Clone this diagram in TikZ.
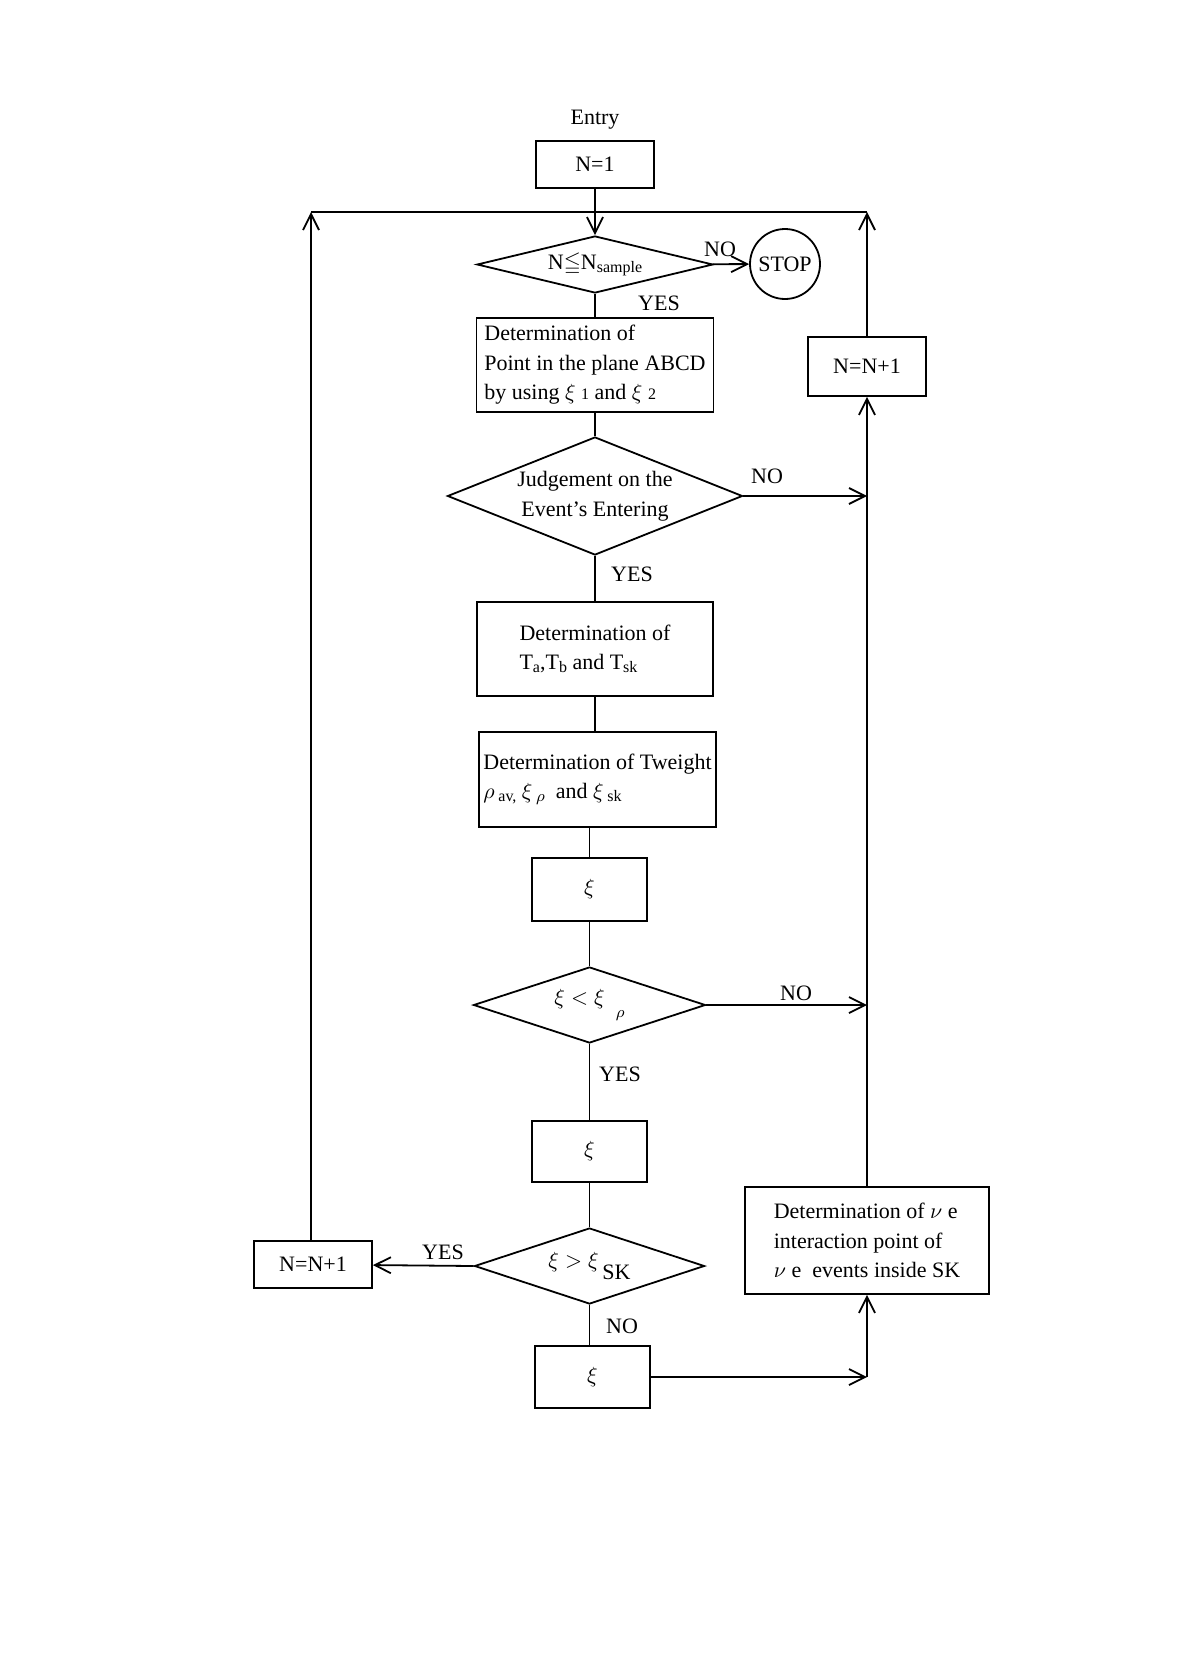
\documentclass[tikz,border=0pt]{standalone}
\usepackage{fontspec}
\usepackage{amsmath,amssymb}
\setmainfont{Liberation Serif}
\usetikzlibrary{shapes.geometric,arrows.meta}
\newcommand{\lowtxt}[1]{\raisebox{-0.3ex}{\footnotesize #1}}

\begin{document}
\begin{tikzpicture}[x=0.5pt,y=-0.5pt,
  every node/.style={font=\fontsize{11}{14.75}\selectfont},
  box/.style={draw,line width=0.9pt,inner sep=0pt,align=left},
  decision/.style={diamond,draw,line width=0.9pt,inner sep=0pt,align=center},
  link/.style={line width=0.7pt},
  arr/.style={line width=0.9pt,-{Straight Barb[length=8pt,width=8pt]}}]
\useasboundingbox (0,0) rectangle (1181,1675);
% main column
\node (entry) at (595,120) {Entry};
\node[box,minimum width=59pt,minimum height=23.5pt] (n1) at (595,164.5) {N=1};
\node[decision,minimum width=118pt,minimum height=28.5pt,aspect=4.1] (d1) at (595,264.5) {N$\leqq$N\lowtxt{sample}};
\node[draw,circle,line width=0.9pt,minimum size=35pt,inner sep=0pt] (stop) at (785,264) {STOP};
\node[box,minimum width=118.5pt,minimum height=47pt] (plane) at (595,365) {Determination of\\Point in the plane ABCD\\by using $\xi$ {\footnotesize 1} and $\xi$ {\footnotesize 2}};
\node[decision,minimum width=147.5pt,minimum height=59pt,aspect=2.5] (d2) at (595,496) {Judgement on the\\Event’s Entering};
\node[box,minimum width=118pt,minimum height=47pt] (ta) at (595,649) {Determination of\\T\lowtxt{a},T\lowtxt{b} and T\lowtxt{sk}};
\node[box,minimum width=118.5pt,minimum height=47.5pt] (tw) at (597.5,779.5) {Determination of Tweight\\$\rho$\,\lowtxt{av,} $\xi$\,\lowtxt{$\rho$}\ \ and $\xi$\,\lowtxt{sk}};
\node[box,minimum width=57.5pt,minimum height=31.5pt,align=center] (xa) at (589.5,889.5) {$\xi$};
\node[decision,minimum width=116pt,minimum height=38pt,aspect=3] (d3) at (589.5,1005) {$\xi<\xi$\ \ \raisebox{-1.3ex}{$\scriptstyle\rho$}};
\node[box,minimum width=57.5pt,minimum height=30.5pt,align=center] (xb) at (589.5,1151.5) {$\xi$};
\node[decision,minimum width=115pt,minimum height=38pt,aspect=3] (d4) at (589.5,1266) {$\xi>\xi$\,\raisebox{-1.2ex}{SK}};
\node[box,minimum width=57.5pt,minimum height=31pt,align=center] (xc) at (592.5,1377) {$\xi$};
% side boxes
\node[box,minimum width=59pt,minimum height=23.5pt,align=center] (lnn) at (313,1264.5) {N=N+1};
\node[box,minimum width=59pt,minimum height=29.5pt,align=center] (rnn) at (867,366.5) {N=N+1};
\node[box,minimum width=122pt,minimum height=53.5pt] (nue) at (867,1240.5) {Determination of $\nu$ e\\interaction point of\\$\nu$ e\ \ events inside SK};
% labels
\node (no1) at (720,249) {NO};
\node (yes1) at (659,303) {YES};
\node (no2) at (767,476) {NO};
\node (yes2) at (632,574) {YES};
\node (no3) at (796,993) {NO};
\node (yes3) at (620,1074) {YES};
\node (yes4) at (443,1252) {YES};
\node (no4) at (622,1326) {NO};
% loop corners
\coordinate (topL) at (311,212);
\coordinate (topR) at (867,212);
\coordinate (joinB) at (867,1377);
% connectors
\draw[arr] (n1) -- (d1);
\draw[line width=0.9pt] (topL) -- (topR);
\draw[arr] (lnn.north -| topL) -- (topL);
\draw[arr] (rnn) -- (topR);
\draw[arr] (d1) -- (stop);
\draw[link] (d1) -- (plane);
\draw[link] (plane) -- (d2);
\draw[arr] (d2.east) -- (d2 -| rnn);
\draw[link] (d2) -- (ta);
\draw[link] (ta.south -| ta) -- (ta.south |- tw.north);
\draw[link] (tw.south -| xa) -- (xa);
\draw[link] (xa) -- (d3);
\draw[arr] (d3.east) -- (d3 -| rnn);
\draw[link] (d3) -- (xb);
\draw[link] (xb) -- (d4);
\draw[arr] (d4.west) -- (lnn);
\draw[link] (d4.south) -- (d4.south |- xc.north);
\draw[arr] (xc) -- (joinB);
\draw[arr] (joinB) -- (nue);
\draw[arr] (nue) -- (rnn);
\end{tikzpicture}
\end{document}
